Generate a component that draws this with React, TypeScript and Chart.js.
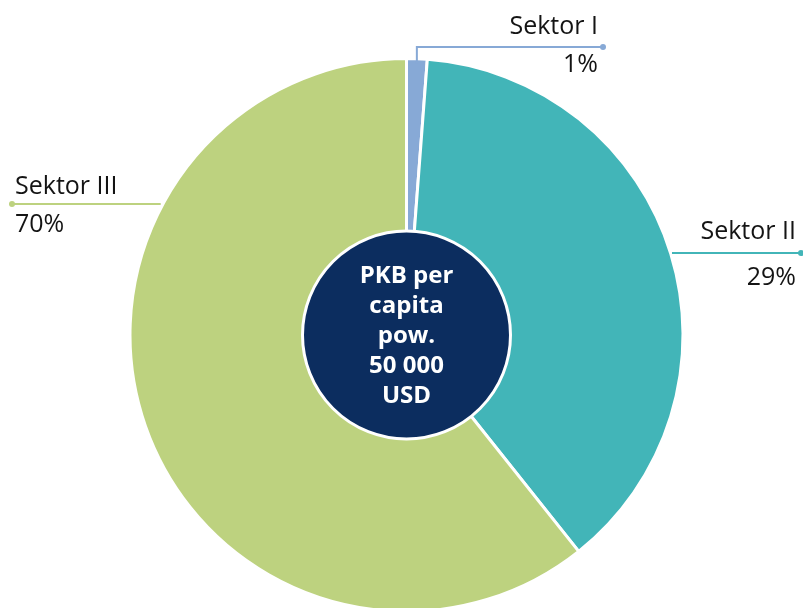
import React, { useEffect, useRef } from "react";
import { Chart, registerables } from "chart.js";

Chart.register(...registerables);

const categories = ["Sektor I", "Sektor II", "Sektor III"];
const sliceValues = [1.2, 38.1, 60.7];
const labelPercents = ["1%", "29%", "70%"];
const sliceColors = ["#87a9d6", "#42b5b8", "#bdd27f"];
const centerLines = ["PKB per", "capita", "pow.", "50 000", "USD"];

const NAVY = "#0c2d5f";
const TEXT = "#141414";
const FONT = "'Open Sans', 'Noto Sans', sans-serif";

const overlayPlugin = {
  id: "overlay",
  afterDatasetsDraw(chart: any) {
    const ctx = chart.ctx as CanvasRenderingContext2D;
    const meta = chart.getDatasetMeta(0);
    const arcs = meta.data as any[];
    if (!arcs.length) return;
    const cx = arcs[0].x;
    const cy = arcs[0].y;
    const r = arcs[0].outerRadius - 1.5;

    ctx.save();
    // center circle
    ctx.beginPath();
    ctx.arc(cx, cy, 104, 0, Math.PI * 2);
    ctx.fillStyle = NAVY;
    ctx.fill();
    ctx.lineWidth = 3;
    ctx.strokeStyle = "#ffffff";
    ctx.stroke();

    ctx.fillStyle = "#ffffff";
    ctx.font = `bold 24px ${FONT}`;
    ctx.textAlign = "center";
    ctx.textBaseline = "alphabetic";
    const lh = 30;
    const firstBase = cy - 52;
    centerLines.forEach((t, i) => ctx.fillText(t, cx, firstBase + i * lh));

    const dot = (x: number, y: number, c: string) => {
      ctx.beginPath();
      ctx.arc(x, y, 3, 0, Math.PI * 2);
      ctx.fillStyle = c;
      ctx.fill();
    };

    const labelFont = `25px ${FONT}`;
    ctx.lineWidth = 2;
    // Sektor I
    {
      const a = arcs[0];
      const mid = (a.startAngle + a.endAngle) / 2;
      const px = cx + Math.cos(mid) * r;
      const py = cy + Math.sin(mid) * r;
      const ly = 47;
      ctx.strokeStyle = sliceColors[0];
      ctx.beginPath();
      ctx.moveTo(px, py + 3);
      ctx.lineTo(px, ly);
      ctx.lineTo(603, ly);
      ctx.stroke();
      dot(603, ly, sliceColors[0]);
      ctx.fillStyle = TEXT;
      ctx.font = labelFont;
      ctx.textAlign = "right";
      ctx.fillText(categories[0], 598, 34);
      ctx.fillText(labelPercents[0], 598, 72);
    }
    // Sektor II
    {
      const ly = 253;
      const ex = cx + Math.sqrt(r * r - (ly - cy) * (ly - cy)) + 3;
      ctx.strokeStyle = sliceColors[1];
      ctx.beginPath();
      ctx.moveTo(ex, ly);
      ctx.lineTo(801, ly);
      ctx.stroke();
      dot(801, ly, sliceColors[1]);
      ctx.fillStyle = TEXT;
      ctx.font = labelFont;
      ctx.textAlign = "right";
      ctx.fillText(categories[1], 796, 239);
      ctx.fillText(labelPercents[1], 796, 285);
    }
    // Sektor III
    {
      const ly = 204;
      const ex = cx - Math.sqrt(r * r - (ly - cy) * (ly - cy)) - 4;
      ctx.strokeStyle = sliceColors[2];
      ctx.beginPath();
      ctx.moveTo(12, ly);
      ctx.lineTo(ex, ly);
      ctx.stroke();
      dot(12, ly, sliceColors[2]);
      ctx.fillStyle = TEXT;
      ctx.font = labelFont;
      ctx.textAlign = "left";
      ctx.fillText(categories[2], 15, 194);
      ctx.fillText(labelPercents[2], 15, 232);
    }
    ctx.restore();
  },
};

export default function App() {
  const ref = useRef<HTMLCanvasElement | null>(null);
  useEffect(() => {
    if (!ref.current) return;
    const chart = new Chart(ref.current, {
      type: "pie",
      data: {
        labels: categories,
        datasets: [
          {
            data: sliceValues,
            backgroundColor: sliceColors,
            borderColor: "#ffffff",
            borderWidth: 3,
            clip: false,
          } as any,
        ],
      },
      options: {
        animation: false,
        responsive: false,
        radius: 276.5,
        layout: { padding: { top: 62, bottom: 0, left: 10, right: 0 } },
        plugins: { legend: { display: false }, tooltip: { enabled: false } },
      } as any,
      plugins: [overlayPlugin],
    });
    return () => chart.destroy();
  }, []);
  return (
    <div style={{ position: "fixed", left: 0, top: 0, width: 803, height: 608, background: "#fff" }}>
      <canvas ref={ref} width={803} height={608} style={{ width: 803, height: 608 }} />
    </div>
  );
}
